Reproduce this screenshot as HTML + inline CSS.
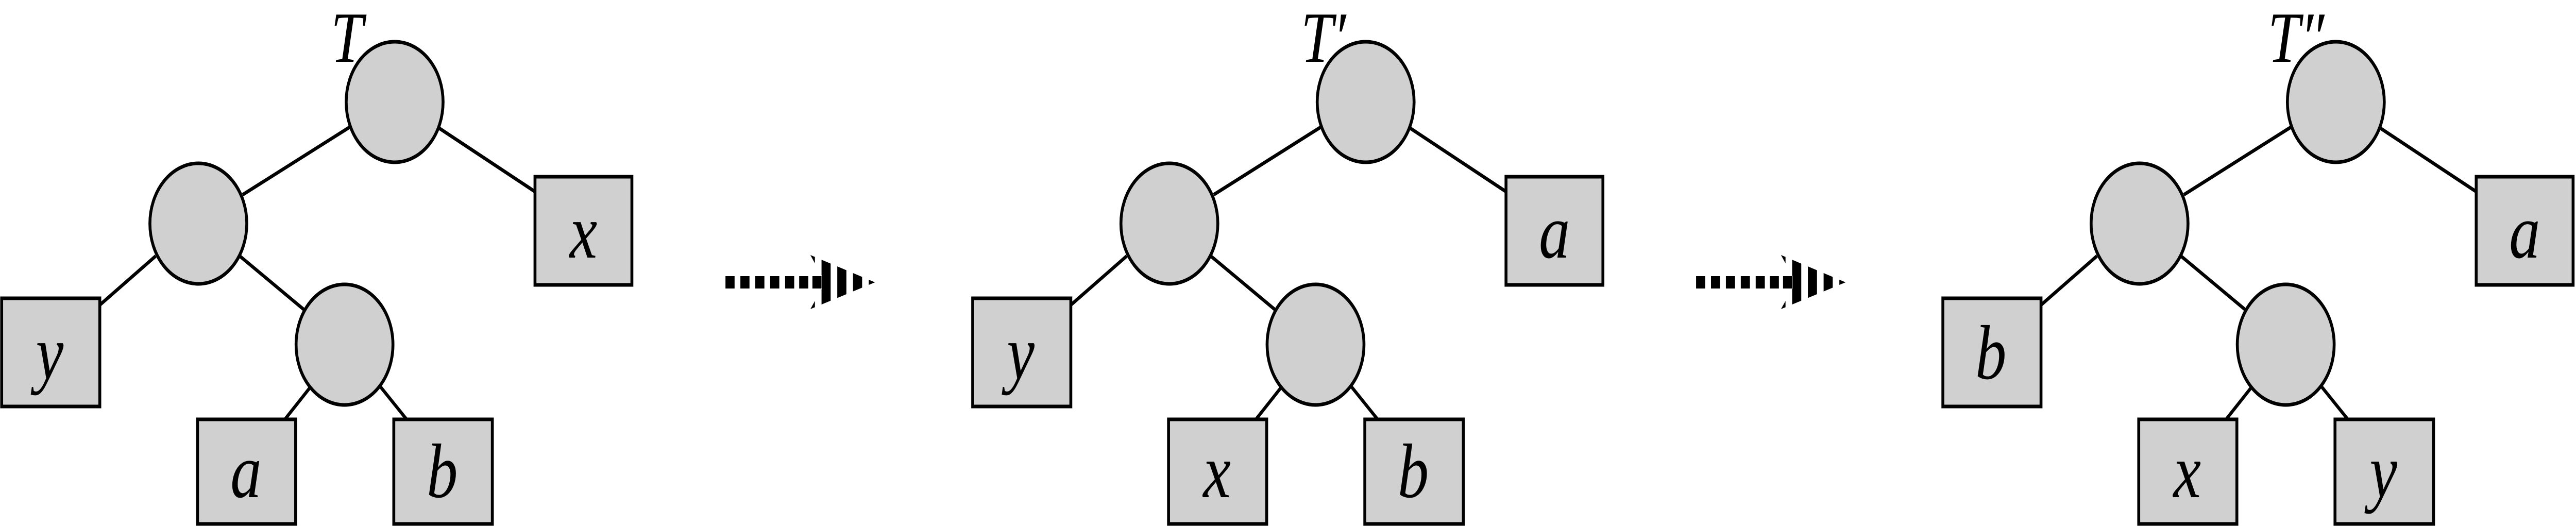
<!DOCTYPE html>
<html><head><meta charset="utf-8"><style>html,body{margin:0;padding:0;background:#fff;width:100%;height:100%;overflow:hidden}svg{display:block;width:100vw;height:100vh}</style></head>
<body>
<svg viewBox="0 0 6221 1021" preserveAspectRatio="none" xmlns="http://www.w3.org/2000/svg">
<defs>
<pattern id="st" x="0" y="0" width="38" height="10" patternUnits="userSpaceOnUse">
<rect x="0" y="0" width="38" height="10" fill="#fff"/>
<rect x="8" y="0" width="22" height="10" fill="#000"/>
</pattern>
<g id="arrow">
<g fill="#000">
<rect x="1752" y="536" width="22" height="24"/><rect x="1788" y="536" width="22" height="24"/>
<rect x="1824" y="536" width="22" height="24"/><rect x="1860" y="536" width="22" height="24"/>
<rect x="1896" y="536" width="22" height="24"/><rect x="1930" y="536" width="22" height="24"/>
<rect x="1962" y="536" width="22" height="24"/>
</g>
<polygon points="1957,495 2113,548 1957,600 1985,560 1985,536" fill="url(#st)"/>
</g>
<g id="tree" stroke="#000" stroke-width="7">
<line x1="844" y1="247" x2="586" y2="378"/>
<line x1="1061" y1="249" x2="1292" y2="372"/>
<line x1="376" y1="497" x2="241" y2="592"/>
<line x1="579" y1="497" x2="734" y2="601"/>
<line x1="748" y1="753" x2="688" y2="814"/>
<line x1="919" y1="751" x2="982" y2="814"/>
<g fill="#d0d0d0">
<circle cx="953" cy="198" r="117"/>
<circle cx="479" cy="434" r="117"/>
<circle cx="832" cy="669" r="117"/>
<rect x="1292" y="343" width="234" height="210"/>
<rect x="4" y="579" width="237" height="210"/>
<rect x="477" y="814" width="237" height="203"/>
<rect x="951" y="814" width="238" height="203"/>
</g>
</g>
</defs>
<use href="#arrow"/>
<use href="#arrow" x="2344"/>
<use href="#tree"/>
<use href="#tree" x="2345"/>
<use href="#tree" x="4688"/>
<g font-family="Liberation Serif, serif" font-style="italic" font-size="150" text-anchor="middle" fill="#000">
<text x="838" y="120" font-size="140">T</text>
<text x="1409" y="500">x</text>
<text x="120" y="735">y</text>
<text x="594" y="965">a</text>
<text x="1068" y="965">b</text>
<text x="3196" y="120" font-size="140">T′</text>
<text x="3754" y="500">a</text>
<text x="2465" y="735">y</text>
<text x="2939" y="965">x</text>
<text x="3413" y="965">b</text>
<text x="5545" y="120" font-size="140">T″</text>
<text x="6097" y="500">a</text>
<text x="4808" y="735">b</text>
<text x="5282" y="965">x</text>
<text x="5756" y="965">y</text>
</g>
</svg>
</body></html>
